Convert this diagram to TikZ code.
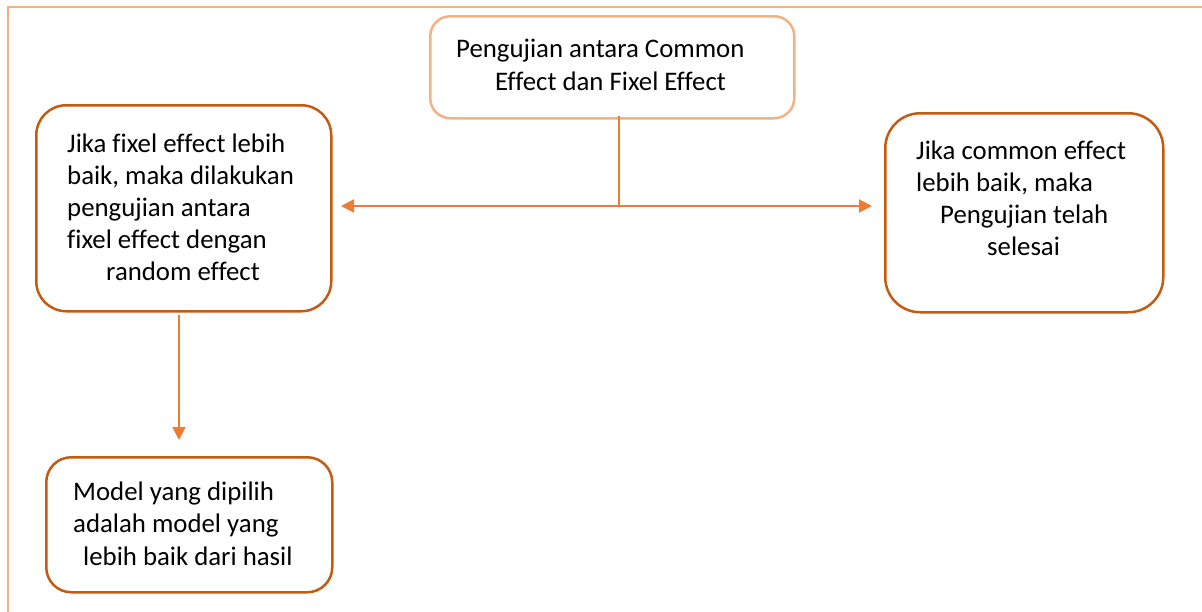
\documentclass[tikz,border=0pt]{standalone}
\usepackage{fontspec}
\setmainfont[Ligatures={NoCommon}]{Carlito}
\usetikzlibrary{arrows.meta}
\definecolor{lightor}{HTML}{F4B183}
\definecolor{darkor}{HTML}{C55A11}
\definecolor{midor}{HTML}{ED7D31}
\begin{document}
\begin{tikzpicture}[x=1pt,y=-1pt,
  boxa/.style={draw=lightor,line width=2.5pt,rounded corners=20pt,anchor=north west,inner sep=0pt},
  boxb/.style={draw=darkor,line width=2.5pt,anchor=north west,inner sep=0pt},
  txt/.style={anchor=base west,inner sep=0pt,text=black,font=\fontsize{26.8}{32}\selectfont},
  conn/.style={draw=midor,line width=2pt},
  tip/.style={-{Triangle[length=13pt,width=13pt]}}]
\useasboundingbox (0,0) rectangle (1202,611);
% outer frame
\draw[lightor,line width=2pt] (8,625) -- (8,7) -- (1215,7);
% boxes
\node[boxa,minimum width=364pt,minimum height=102pt] (top) at (429,15) {};
\node[boxb,rounded corners=30pt,minimum width=295pt,minimum height=206pt] (left) at (35,104) {};
\node[boxb,rounded corners=35pt,minimum width=278pt,minimum height=199pt] (right) at (884,112) {};
\node[boxb,rounded corners=25pt,minimum width=286pt,minimum height=135pt] (bottom) at (45,456) {};
% texts
\node[txt] (t1) at (456,57) {Pengujian antara Common};
\node[txt] (t2) at (495,90) {Effect dan Fixel Effect};
\node[txt] (l1) at (67,152) {Jika fixel effect lebih};
\node[txt] (l2) at (67,184) {baik, maka dilakukan};
\node[txt] (l3) at (67,216) {pengujian antara};
\node[txt] (l4) at (67,248) {fixel effect dengan};
\node[txt] (l5) at (106,280) {random effect};
\node[txt] (r1) at (916,159) {Jika common effect};
\node[txt] (r2) at (916,191) {lebih baik, maka};
\node[txt] (r3) at (940,223) {Pengujian telah};
\node[txt] (r4) at (987,255) {selesai};
\node[txt] (b1) at (73,500) {Model yang dipilih};
\node[txt] (b2) at (73,532) {adalah model yang};
\node[txt] (b3) at (83,565) {lebih baik dari hasil};
% connectors
\coordinate (jtop) at (619,116);
\coordinate (junc) at (619,206);
\coordinate (ltip) at (341,206);
\coordinate (rtip) at (872,206);
\coordinate (dstart) at (179,315);
\coordinate (dtip) at (179,440);
\draw[conn] (jtop) -- (junc);
\draw[conn,tip] (junc) -- (ltip);
\draw[conn,tip] (junc) -- (rtip);
\draw[conn,tip] (dstart) -- (dtip);
\end{tikzpicture}
\end{document}
